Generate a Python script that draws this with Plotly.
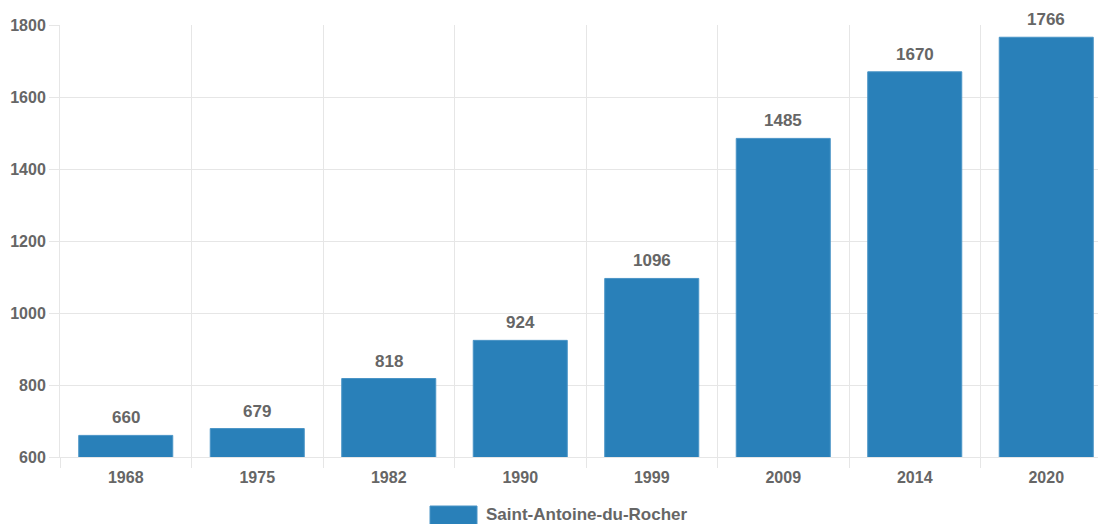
import plotly.graph_objects as go

years = ["1968", "1975", "1982", "1990", "1999", "2009", "2014", "2020"]
population = [660, 679, 818, 924, 1096, 1485, 1670, 1766]
series_name = "Saint-Antoine-du-Rocher"
y_ticks = [600, 800, 1000, 1200, 1400, 1600, 1800]

W, H = 1098, 524
ml, mr, mt, mb = 60, 0, 25, 67
pw, ph = W - ml - mr, H - mt - mb

bar_color = "#2980b9"
edge_color = "#4a94c6"
text_color = "#666666"
grid_color = "#e6e6e6"
font_family = "Liberation Sans, Arial, sans-serif"

fig = go.Figure()
fig.add_trace(go.Bar(
    x=years, y=population,
    marker=dict(color=bar_color, line=dict(color=edge_color, width=1)),
    width=0.715, name=series_name, showlegend=False,
    hoverinfo="x+y",
))

for i, v in enumerate(population):
    fig.add_annotation(x=i, y=v, text=str(v), showarrow=False,
                       yanchor="bottom", yshift=6,
                       font=dict(family=font_family, size=17, color=text_color, weight="bold"))

# custom legend
def px_to_paper_x(px):
    return (px - ml) / pw

def px_to_paper_y(py):
    return (H - mb - py) / ph

fig.add_shape(type="rect", xref="paper", yref="paper",
              x0=px_to_paper_x(430), x1=px_to_paper_x(477),
              y0=px_to_paper_y(528), y1=px_to_paper_y(506),
              fillcolor=bar_color, line=dict(color=edge_color, width=1))
fig.add_annotation(xref="paper", yref="paper", x=px_to_paper_x(485), y=px_to_paper_y(514),
                   xanchor="left", yanchor="middle", text=series_name, showarrow=False,
                   borderpad=0,
                   font=dict(family=font_family, size=17, color=text_color, weight="bold"))

span = pw / 131.5
fig.update_layout(
    width=W, height=H,
    margin=dict(l=ml, r=mr, t=mt, b=mb),
    paper_bgcolor="white", plot_bgcolor="white",
    font=dict(family=font_family, size=16, color=text_color, weight="bold"),
    xaxis=dict(
        type="category", range=[-0.5, -0.5 + span],
        tickson="boundaries", ticks="outside", ticklen=10, tickcolor=grid_color,
        ticklabelstandoff=6,
        showgrid=True, gridcolor=grid_color, gridwidth=1,
        showline=True, linecolor=grid_color,
        tickfont=dict(family=font_family, size=16, color=text_color, weight="bold"),
    ),
    yaxis=dict(
        range=[600, 1800], tickvals=y_ticks, ticks="outside", ticklen=10, tickcolor=grid_color,
        showgrid=True, gridcolor=grid_color, zeroline=False,
        showline=True, linecolor=grid_color,
        tickfont=dict(family=font_family, size=16, color=text_color, weight="bold"),
    ),
)

fig.write_html("out.html")
